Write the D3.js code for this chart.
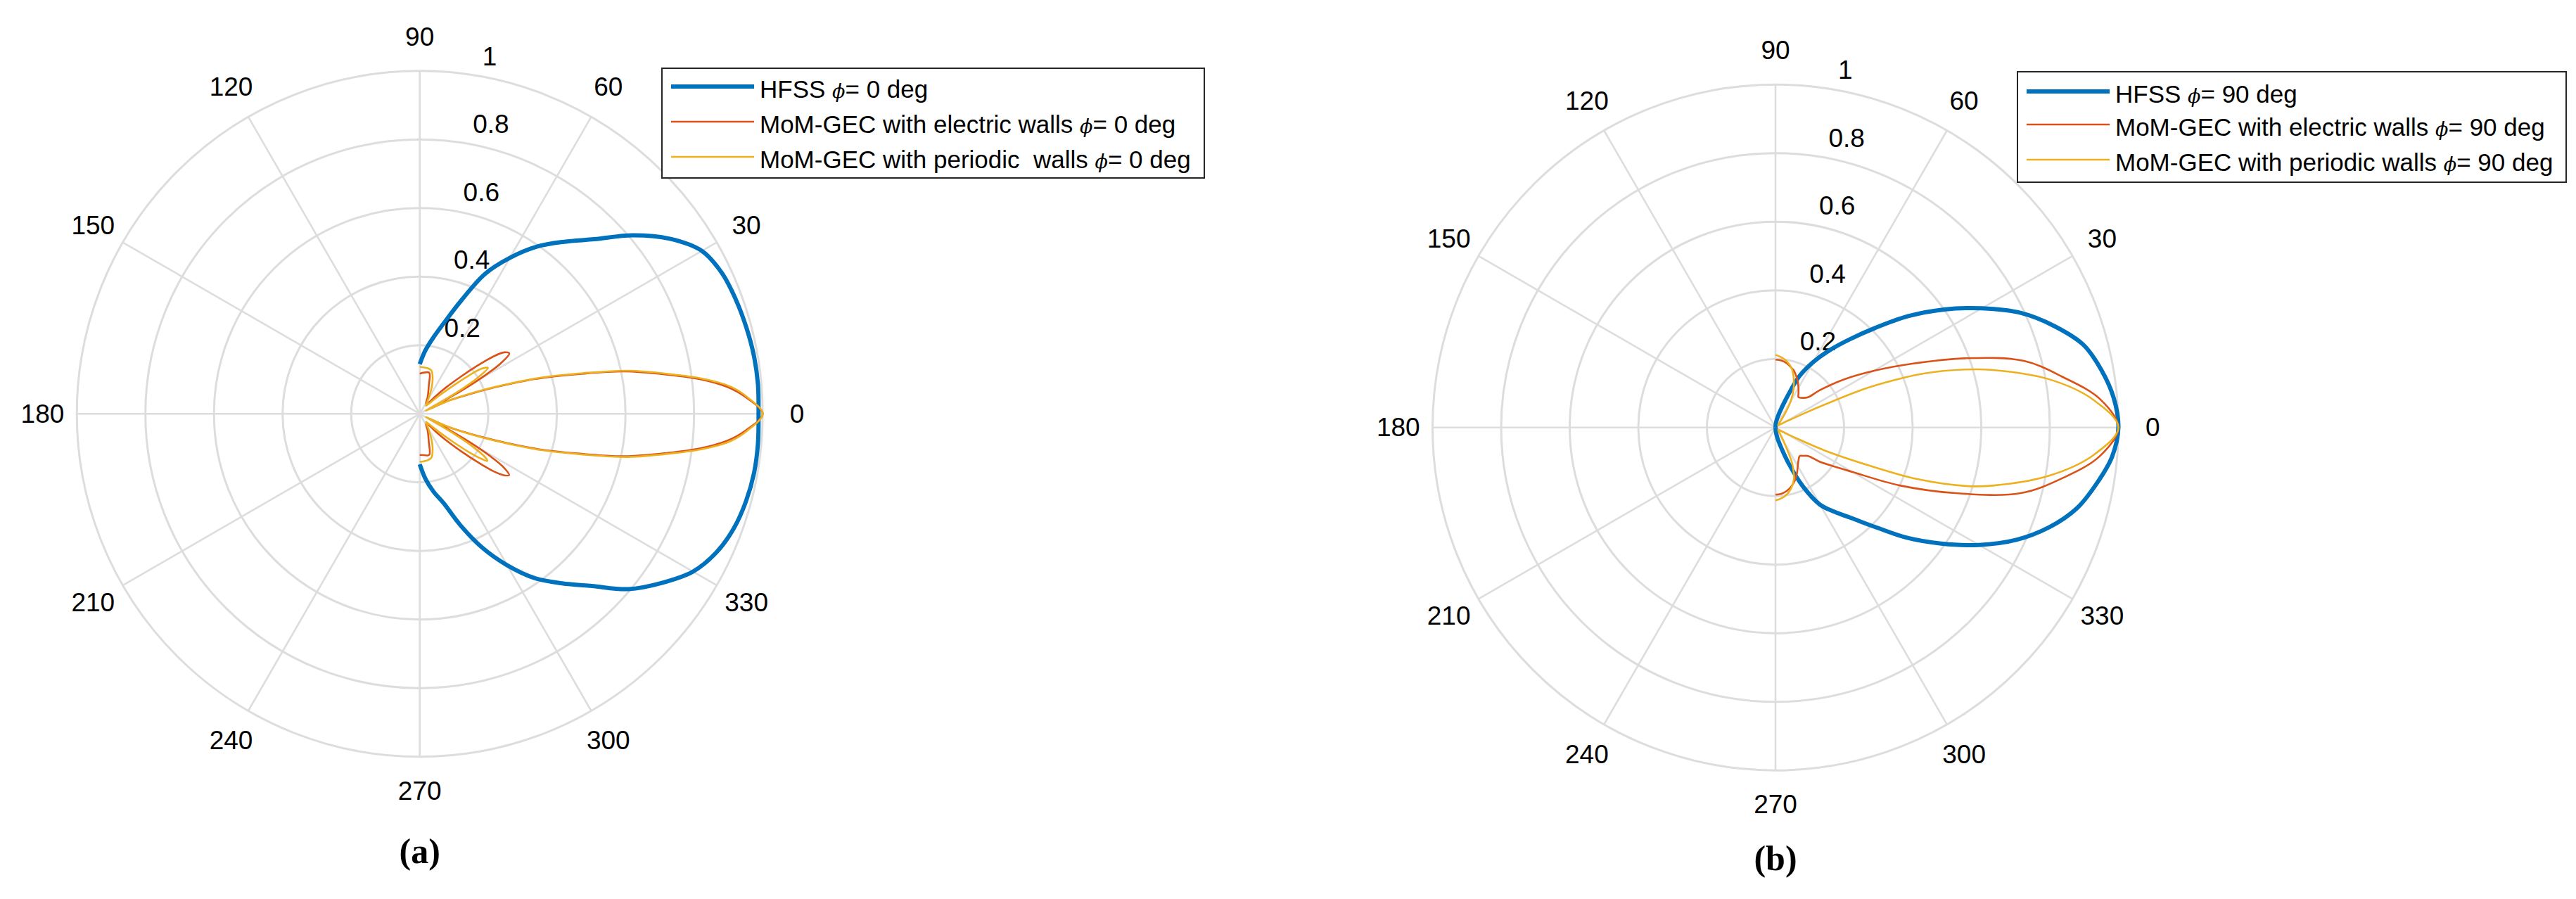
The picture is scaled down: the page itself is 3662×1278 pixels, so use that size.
<!DOCTYPE html>
<html>
<head>
<meta charset="utf-8">
<script src="https://cdn.jsdelivr.net/npm/d3@7"></script>
<style>
body{margin:0;background:#fff}
svg{display:block;background:#fff}
.grid{fill:none;stroke:#dddddd}
.tick{font-family:"Liberation Sans",Arial,sans-serif;font-size:37px;fill:#000}
.legend{font-family:"Liberation Sans",Arial,sans-serif;font-size:35px;fill:#000;white-space:pre}
.phi{font-family:"DejaVu Serif",serif;font-style:italic;font-size:27px}
.panel{font-family:"Liberation Serif","Times New Roman",serif;font-weight:bold;font-size:50px;fill:#000}
</style>
</head>
<body>
<svg id="fig" width="3662" height="1278"></svg>
<script>
// ticks
const angleTicks = [0,30,60,90,120,150,180,210,240,270,300,330]
const radialTicks = [0.2,0.4,0.6,0.8,1]
const radialLabels = ["0.2","0.4","0.6","0.8","1"]

// (a) phi = 0 deg : [theta (deg), normalized field]
const hfssA = [[-90,.147],[-85,.19],[-80,.23],[-75,.27],[-70,.345],[-65,.43],[-60,.51],[-55,.585],[-50,.645],[-45,.71],[-40,.795],[-35,.86],[-30,.92],[-25,.955],[-20,.975],[-15,.985],[-10,.99],[-5,.99],[0,.988],[5,.99],[10,.989],[15,.985],[20,.98],[25,.972],[30,.95],[35,.89],[40,.81],[45,.72],[50,.655],[55,.595],[60,.525],[65,.45],[70,.35],[75,.275],[80,.225],[85,.185],[90,.145]]
const elecA = [[-90,.12],[-84,.121],[-77,.123],[-72,.085],[-65,.055],[-58,.035],[-52,.04],[-48,.07],[-45,.11],[-42,.165],[-40,.215],[-38,.27],[-36,.305],[-34.4,.316],[-32.5,.29],[-31,.24],[-29.5,.165],[-28,.07],[-27,.03],[-25,.085],[-22.5,.135],[-20.3,.2],[-18.5,.27],[-16.6,.36],[-14,.48],[-11.7,.61],[-9,.73],[-7,.825],[-5,.9],[-3,.95],[0,1],[3,.95],[5,.9],[7,.825],[9,.73],[11.7,.61],[14,.48],[16.6,.36],[18.5,.27],[20.3,.2],[22.5,.13],[24.8,.087],[26.5,.03],[27.5,.04],[29,.14],[30.5,.22],[32,.28],[34,.315],[36,.305],[38,.27],[40,.215],[42,.165],[45,.11],[48,.07],[52,.04],[58,.035],[65,.055],[72,.085],[77,.123],[84,.121],[90,.117]]
const periA = [[-90,.14],[-85,.139],[-80,.137],[-75,.132],[-70,.11],[-65,.08],[-60,.05],[-55,.035],[-52,.03],[-47,.045],[-43,.08],[-40,.13],[-38,.18],[-36,.225],[-35,.24],[-34,.235],[-32,.19],[-30,.11],[-28,.03],[-27,.02],[-26,.04],[-24.5,.09],[-22.5,.14],[-20.3,.21],[-18.5,.28],[-16.6,.37],[-14,.49],[-11.7,.62],[-9,.74],[-7,.835],[-5,.91],[-3,.955],[0,1],[3,.955],[5,.91],[7,.835],[9,.74],[11.7,.62],[14,.49],[16.6,.37],[18.5,.28],[20.3,.21],[22.5,.14],[24.5,.09],[26,.04],[27,.02],[28,.03],[30,.12],[32,.2],[34,.24],[36,.225],[38,.18],[40,.13],[43,.08],[47,.045],[52,.03],[55,.035],[60,.05],[65,.08],[70,.11],[75,.131],[80,.135],[85,.136],[90,.137]]

// (b) phi = 90 deg
const hfssB = [[-90,0],[-85,.012],[-80,.03],[-75,.055],[-70,.11],[-65,.19],[-60,.26],[-55,.3],[-50,.345],[-45,.41],[-40,.5],[-35,.59],[-30,.685],[-25,.775],[-20,.85],[-15,.91],[-10,.95],[-5,.985],[0,1],[5,.99],[10,.965],[15,.93],[20,.865],[25,.79],[30,.695],[35,.6],[40,.505],[45,.41],[50,.335],[55,.275],[60,.22],[65,.165],[70,.085],[75,.045],[80,.025],[85,.012],[90,0]]
const elecB = [[-90,.196],[-85,.194],[-80,.188],[-75,.178],[-70,.165],[-65,.148],[-60,.13],[-55,.117],[-49.6,.109],[-46,.115],[-41.2,.126],[-38,.16],[-35,.19],[-30,.26],[-25,.4],[-20,.56],[-15,.74],[-10,.85],[-5,.95],[0,1],[5,.95],[10,.85],[15,.75],[20,.59],[25,.44],[30,.33],[35,.245],[40,.17],[43,.129],[47,.118],[52.7,.111],[56,.12],[60,.134],[65,.152],[70,.168],[72.3,.175],[75,.18],[80,.19],[85,.196],[90,.198]]
const periB = [[-90,.213],[-85,.207],[-80,.197],[-75,.181],[-70,.158],[-68.3,.144],[-65,.115],[-60,.052],[-55,.025],[-50,.015],[-40,.01],[-35,.015],[-30,.03],[-27,.075],[-25,.16],[-22,.3],[-20,.44],[-17.1,.58],[-15,.655],[-10,.81],[-5,.93],[0,1],[5,.93],[10,.81],[15,.65],[17,.578],[20,.46],[22,.36],[23.5,.28],[25,.155],[26,.1],[30,.03],[35,.015],[40,.01],[45,.012],[50,.02],[55,.045],[60,.09],[65,.125],[68,.143],[70,.155],[75,.18],[80,.195],[85,.205],[90,.212]]

// legend texts (before the phi symbol / after it)
const legendA = ["HFSS ", "MoM-GEC with electric walls ", "MoM-GEC with periodic  walls "]
const legendB = ["HFSS ", "MoM-GEC with electric walls ", "MoM-GEC with periodic walls "]
const phiA = "= 0 deg"
const phiB = "= 90 deg"

function polar_plot(ax, cx, cy, R, series, names, suffix, box, panel, panelY)
{
    const svg = d3.select(ax)
    const Fig = svg.append("g").attr("transform", `translate(${cx},${cy})`)
    const rScale = d3.scaleLinear().domain([0,1]).range([0,R])
    // MATLAB angle (ccw from east) -> d3 radial angle (cw from north)
    const aScale = d3.scaleLinear().domain([0,360]).range([Math.PI/2, Math.PI/2 - 2*Math.PI])
    const color = d3.scaleOrdinal().domain([0,1,2]).range(["#0072BD","#D95319","#EDB120"])
    const widths = [6,2.6,2.6]
    const px = (t,r) => rScale(r)*Math.sin(aScale(t))
    const py = (t,r) => -rScale(r)*Math.cos(aScale(t))

    // grid rings
    Fig.selectAll(".ring").data(radialTicks).join("circle")
        .attr("class","ring grid")
        .attr("r", d=>rScale(d))
        .attr("stroke-width",3)
    // spokes (full diameters)
    Fig.selectAll(".spoke").data(angleTicks.slice(0,6)).join("line")
        .attr("class","spoke grid")
        .attr("x1", d=>px(d,1)).attr("y1", d=>py(d,1))
        .attr("x2", d=>px(d+180,1)).attr("y2", d=>py(d+180,1))
        .attr("stroke-width",2.6)

    // angle labels at 1.1 rmax
    Fig.selectAll(".alab").data(angleTicks).join("text")
        .attr("class","alab tick")
        .attr("x", d=>px(d,1.1)).attr("y", d=>py(d,1.1))
        .attr("text-anchor","middle")
        .attr("dominant-baseline","central")
        .text(d=>d)

    // radial labels at 82 deg, bottom aligned, after two spaces
    Fig.selectAll(".rlab").data(radialTicks).join("text")
        .attr("class","rlab tick")
        .attr("x", d=>px(82, d+0.01) + 20.5)
        .attr("y", d=>py(82, d+0.01) - 8)
        .text((d,i)=>radialLabels[i])

    // curves
    const line = d3.lineRadial()
        .angle(d=>aScale(d[0]))
        .radius(d=>rScale(d[1]))
        .curve(d3.curveCatmullRom.alpha(0.5))
    Fig.selectAll(".curve").data(series).join("path")
        .attr("class","curve")
        .attr("d", d=>line(d))
        .attr("fill","none")
        .attr("stroke", (d,i)=>color(i))
        .attr("stroke-width", (d,i)=>widths[i])
        .attr("stroke-linejoin","round")

    // legend
    const lg = svg.append("g")
    lg.append("rect")
        .attr("x", box.x).attr("y", box.y)
        .attr("width", box.w).attr("height", box.h)
        .attr("fill","#fff").attr("stroke","#262626").attr("stroke-width",2)
    const items = lg.selectAll(".item").data(names).join("g")
        .attr("class","item")
        .attr("transform",(d,i)=>`translate(0,${box.rows[i]})`)
    items.append("line")
        .attr("x1", box.lx1).attr("x2", box.lx2)
        .attr("stroke",(d,i)=>color(i))
        .attr("stroke-width",(d,i)=>widths[i])
    const txt = items.append("text")
        .attr("class","legend")
        .attr("x", box.tx).attr("y", 3)
        .attr("dominant-baseline","central")
    txt.append("tspan").text(d=>d)
    txt.append("tspan").attr("class","phi").attr("dy",3).text("\u03d5")
    txt.append("tspan").attr("dy",-3).text(suffix)

    // panel label
    svg.append("text")
        .attr("class","panel")
        .attr("x", cx).attr("y", panelY)
        .attr("text-anchor","middle")
        .text(panel)
}

polar_plot("#fig", 596.7, 588.3, 487.5, [hfssA, elecA, periA], legendA, phiA,
    {x:941, y:97, w:771, h:156, lx1:954, lx2:1072, tx:1080, rows:[123,173,223]}, "(a)", 1227)
polar_plot("#fig", 2524, 607.7, 487.5, [hfssB, elecB, periB], legendB, phiB,
    {x:2868, y:102, w:780, h:157, lx1:2881, lx2:2999, tx:3007, rows:[130,177,227]}, "(b)", 1237)
</script>
</body>
</html>
